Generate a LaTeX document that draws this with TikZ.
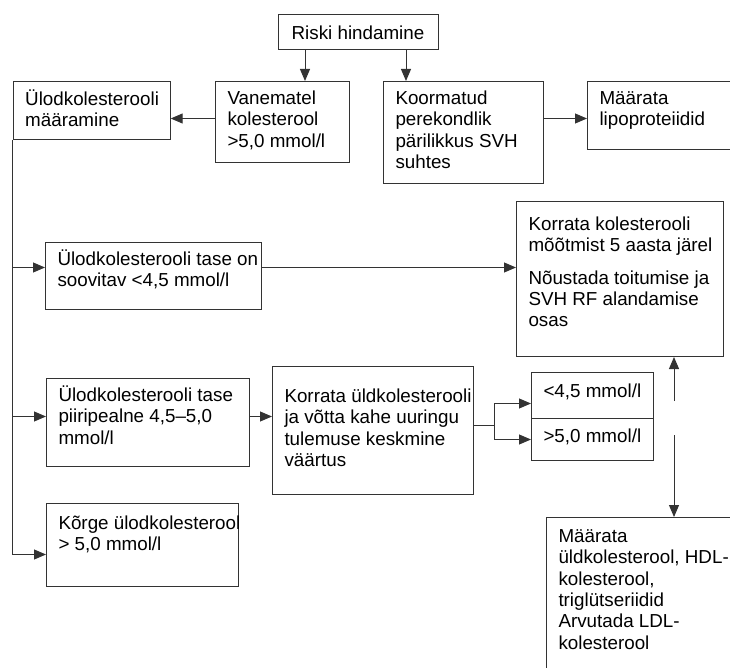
\documentclass[tikz,border=0pt]{standalone}
\usepackage{fontspec}
\setmainfont{Liberation Sans}
\usetikzlibrary{arrows.meta,positioning,calc}
\newcommand{\kast}[4]{\parbox[t][#2pt][t]{\dimexpr#1pt-24pt\relax}{\raggedright\rule{0pt}{#3pt}#4}}
\begin{document}
\begin{tikzpicture}[x=1pt,y=-1pt,
  every node/.style={font=\fontsize{18.8}{21.3}\selectfont},
  kast/.style={draw=black!80,line width=1pt,anchor=north west,inner xsep=12pt,inner ysep=0pt},
  pil/.style={draw=black!80,line width=1pt,-{Triangle[length=12pt,width=10pt]}},
  joon/.style={draw=black!80,line width=1pt}]
\useasboundingbox (0,0) rectangle (730,668);
\clip (0,0) rectangle (730,668);
\node[draw=black!80,line width=1pt,minimum width=160pt,minimum height=35pt,inner sep=0pt] (riski) at (358,32.5) {Riski hindamine};
\node[kast] (ylod) at (12.7,81) {\kast{157}{58}{24}{Ülodkolesterooli\\määramine}};
\node[kast] (vanem) at (215,81) {\kast{134}{81}{23}{Vanematel\\kolesterool\\>5,0 mmol/l}};
\node[kast] (koorm) at (383,81) {\kast{160}{102}{23}{Koormatud\\perekondlik\\pärilikkus SVH\\suhtes}};
\node[kast] (lipo) at (587,81) {\kast{200}{68}{23}{Määrata\\lipoproteiidid}};
\node[kast] (soov) at (45,242) {\kast{216}{67}{23}{\mbox{Ülodkolesterooli tase on}\\soovitav <4,5 mmol/l}};
\node[kast] (korr) at (516,201) {\kast{207}{155}{29}{Korrata kolesterooli\\\mbox{mõõtmist 5 aasta järel}\\[11pt]Nõustada toitumise ja\\SVH RF alandamise\\osas}};
\node[kast] (piir) at (46,378) {\kast{203}{88}{23}{Ülodkolesterooli tase\\piiripealne 4,5–5,0\\mmol/l}};
\node[kast] (uld) at (272,366) {\kast{201}{128}{36}{\mbox{Korrata üldkolesterooli}\\\mbox{ja võtta kahe uuringu}\\tulemuse keskmine\\väärtus}};
\node[kast] (lt) at (531,372) {\kast{122}{46}{25}{\mbox{<4,5 mmol/l}}};
\node[kast] (gt) at (531,418) {\kast{122}{42}{24}{\mbox{>5,0 mmol/l}}};
\node[kast] (korge) at (46,503) {\kast{192}{83}{26}{\mbox{Kõrge ülodkolesterool}\\> 5,0 mmol/l}};
\node[kast] (maar) at (546,517) {\kast{250}{200}{25}{Määrata\\üldkolesterool, HDL-\\kolesterool,\\triglütseriidid\\Arvutada LDL-\\kolesterool}};
\coordinate (r1) at ([xshift=-53pt]riski.south);
\coordinate (r2) at ([xshift=48pt]riski.south);
\draw[pil] (r1) -- (r1 |- vanem.north);
\draw[pil] (r2) -- (r2 |- koorm.north);
\coordinate (v1) at ([yshift=3.5pt]vanem.west);
\draw[pil] (v1) -- (v1 -| ylod.east);
\coordinate (k1) at ([yshift=14pt]koorm.east);
\draw[pil] (k1) -- (k1 -| lipo.west);
\coordinate (t1) at ([yshift=8.5pt]soov.west);
\coordinate (t2) at ([yshift=6pt]piir.west);
\coordinate (t3) at ([yshift=-9.5pt]korge.west);
\draw[pil] (ylod.south west) |- (t3);
\draw[pil] (t1 -| ylod.south west) -- (t1);
\draw[pil] (t2 -| ylod.south west) -- (t2);
\coordinate (s1) at ([yshift=8.5pt]soov.east);
\draw[pil] (s1) -- (s1 -| korr.west);
\coordinate (p1) at ([yshift=6pt]piir.east);
\draw[pil] (p1) -- (p1 -| uld.west);
\coordinate (u1) at ([yshift=5pt]uld.east);
\coordinate (hargne) at ($(u1)+(20,0)$);
\draw[joon] (u1) -- (hargne);
\coordinate (lt1) at ([yshift=-8pt]lt.west);
\draw[pil] (hargne) |- (lt1);
\draw[pil] (hargne) |- (gt.west);
\coordinate (ules) at (674,401);
\draw[pil] (ules) -- (ules |- korr.south);
\coordinate (alla) at (674,435);
\draw[pil] (alla) -- (alla |- maar.north);
\end{tikzpicture}
\end{document}
